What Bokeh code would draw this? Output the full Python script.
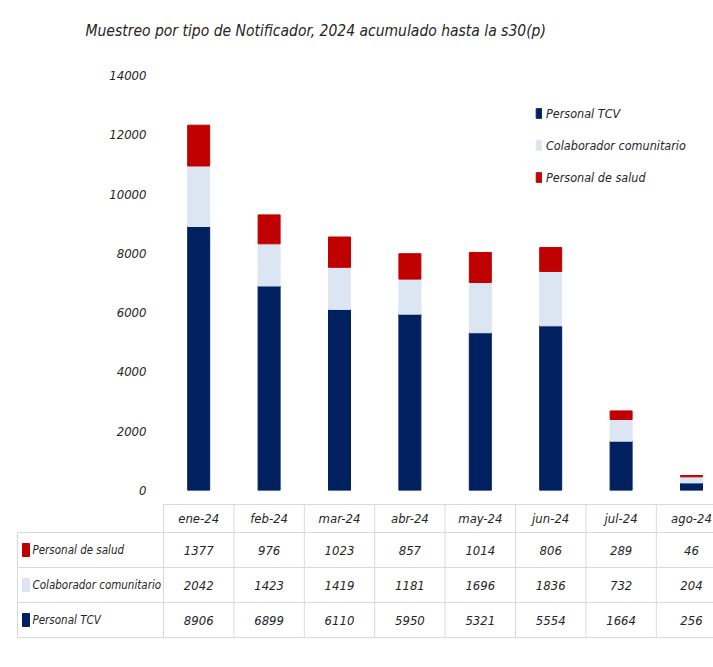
from bokeh.plotting import figure
from bokeh.models import Range1d, FixedTicker, ColumnDataSource
from bokeh.embed import file_html
from bokeh.resources import INLINE
from bokeh.core.properties import value

# ---- data ----
months = ["ene-24", "feb-24", "mar-24", "abr-24", "may-24", "jun-24", "jul-24", "ago-24"]
personal_salud = [1377, 976, 1023, 857, 1014, 806, 289, 46]
colaborador = [2042, 1423, 1419, 1181, 1696, 1836, 732, 204]
personal_tcv = [8906, 6899, 6110, 5950, 5321, 5554, 1664, 256]
series_names = ["Personal TCV", "Colaborador comunitario", "Personal de salud"]
y_ticks = [0, 2000, 4000, 6000, 8000, 10000, 12000, 14000]
title_text = "Muestreo por tipo de Notificador, 2024 acumulado hasta la s30(p)"

colors = ["#002060", "#DCE6F2", "#C00000"]
FONT = "DejaVu Sans Condensed, Liberation Sans"
TXT = "#262626"

W = 713
COL = 70.4          # px per category
LEFT = 163          # px left of the plot frame
x_pos = [i + 0.5 for i in range(len(months))]
x_end = (W - LEFT) / COL

src = ColumnDataSource(dict(x=x_pos, tcv=personal_tcv, colab=colaborador, salud=personal_salud))

def bare(fig):
    fig.axis.visible = False
    fig.grid.visible = False
    fig.outline_line_color = None

# ---- title strip ----
H0 = 50
ttl = figure(width=W, height=H0, x_range=Range1d(0, W), y_range=Range1d(H0, 0),
             output_backend="svg", toolbar_location=None, min_border=0)
bare(ttl)
ttl.text(x=[85], y=[30], text=[title_text], text_font=value(FONT), text_font_style="italic",
         text_font_size="15.5px", text_color=TXT, text_baseline="middle", text_align="left")

# ---- chart ----
p = figure(width=W, height=498 - H0, x_range=Range1d(0, x_end), y_range=Range1d(0, 14000),
           output_backend="svg", toolbar_location=None,
           min_border_left=LEFT, min_border_right=0, min_border_top=75 - H0, min_border_bottom=8)
p.xaxis.visible = False
p.xgrid.visible = False
p.ygrid.visible = False
p.outline_line_color = None
p.yaxis.ticker = FixedTicker(ticks=y_ticks)
p.yaxis.axis_line_color = None
p.yaxis.major_tick_line_color = None
p.yaxis.minor_tick_line_color = None
p.yaxis.major_label_standoff = 11
p.yaxis.major_label_text_font = FONT
p.yaxis.major_label_text_font_style = "italic"
p.yaxis.major_label_text_font_size = "13px"
p.yaxis.major_label_text_color = TXT

p.vbar_stack(["tcv", "colab", "salud"], x="x", width=22 / COL, color=colors,
             source=src, legend_label=series_names)

lg = p.legend[0]
lg.location = (372, 303)
lg.padding = 0
lg.margin = 0
lg.border_line_color = None
lg.background_fill_alpha = 0
lg.glyph_width = 7
lg.glyph_height = 12
lg.label_height = 20
lg.spacing = 12
lg.label_standoff = 4
lg.label_text_font = FONT
lg.label_text_font_style = "italic"
lg.label_text_font_size = "12.5px"
lg.label_text_color = TXT

# ---- data table ----
H2 = 165
t = figure(width=W, height=H2, x_range=Range1d(-LEFT / COL, x_end), y_range=Range1d(H2, 0),
           output_backend="svg", toolbar_location=None, min_border=0)
bare(t)

lab_left = (17 - LEFT) / COL
row_lines = [6, 34, 69, 104, 139]
gc = "#D9D9D9"
t.segment(x0=[0] + [lab_left] * 4, x1=[x_end] * 5, y0=row_lines, y1=row_lines, line_color=gc, line_width=1)
vx = list(range(len(months) + 1))
t.segment(x0=vx, x1=vx, y0=[row_lines[0]] * len(vx), y1=[row_lines[-1]] * len(vx), line_color=gc)
t.segment(x0=[lab_left], x1=[lab_left], y0=[row_lines[1]], y1=[row_lines[-1]], line_color=gc)

row_mid = [(row_lines[i] + row_lines[i + 1]) / 2 for i in range(4)]
tfont = dict(text_font=value(FONT), text_font_style="italic", text_color=TXT)
t.text(x=x_pos, y=[row_mid[0]] * len(months), text=months, text_align="center",
       text_baseline="middle", text_font_size="13px", **tfont)

rows = [("Personal de salud", personal_salud, colors[2]),
        ("Colaborador comunitario", colaborador, colors[1]),
        ("Personal TCV", personal_tcv, colors[0])]
for i, (name, vals, c) in enumerate(rows):
    y = row_mid[i + 1]
    t.rect(x=[(25.5 - LEFT) / COL], y=[y], width=7 / COL, height=13, color=c)
    t.text(x=[(32 - LEFT) / COL], y=[y], text=[name], text_align="left", text_baseline="middle",
           text_font_size="11.5px", **tfont)
    t.text(x=x_pos, y=[y] * len(vals), text=[str(v) for v in vals], text_align="center",
           text_baseline="middle", text_font_size="13px", **tfont)

open("out.html", "w").write(file_html([ttl, p, t], INLINE))
